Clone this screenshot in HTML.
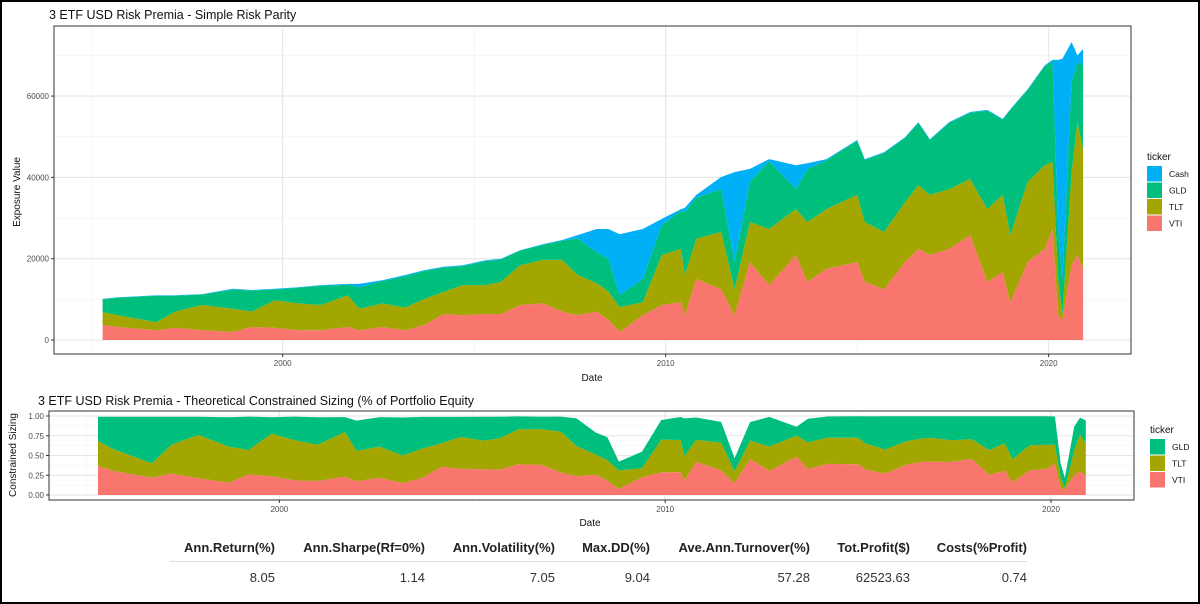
<!DOCTYPE html>
<html><head><meta charset="utf-8">
<style>
body{margin:0;background:#fff;font-family:"Liberation Sans",sans-serif;}
#wrap{position:relative;width:1196px;height:600px;border:2px solid #000;overflow:hidden;background:#fff}
svg{position:absolute;left:0;top:0}
text{font-family:"Liberation Sans",sans-serif}
table{position:absolute;left:168px;top:536px;border-collapse:collapse;font-size:13px;color:#222}
th{font-weight:bold;text-align:right;padding:2px 0 6px 0;border-bottom:1px solid #ddd}
td{text-align:right;padding:8px 0 0 0;color:#333}
</style></head><body>
<div id="wrap">
<svg id="chart" width="1196" height="530"></svg>
<table>
<tr><th style="width:105px">Ann.Return(%)</th><th style="width:150px">Ann.Sharpe(Rf=0%)</th><th style="width:130px">Ann.Volatility(%)</th><th style="width:95px">Max.DD(%)</th><th style="width:160px">Ave.Ann.Turnover(%)</th><th style="width:100px">Tot.Profit($)</th><th style="width:117px">Costs(%Profit)</th></tr>
<tr><td>8.05</td><td>1.14</td><td>7.05</td><td>9.04</td><td>57.28</td><td>62523.63</td><td>0.74</td></tr>
</table>
</div>
<script>
const dates=[1995.3,1995.7,1996.7,1997.2,1997.9,1998.7,1999.2,1999.8,2000.4,2001.0,2001.7,2002.0,2002.6,2003.2,2003.7,2004.2,2004.7,2005.3,2005.7,2006.2,2006.8,2007.3,2007.7,2008.2,2008.5,2008.8,2009.4,2009.9,2010.4,2010.5,2010.8,2011.45,2011.8,2012.2,2012.7,2013.4,2013.7,2014.2,2015.0,2015.2,2015.7,2016.25,2016.6,2016.9,2017.4,2017.95,2018.4,2018.8,2019.0,2019.45,2019.9,2020.1,2020.25,2020.36,2020.6,2020.75,2020.9];
const vti=[3700,3200,2400,3000,2400,2000,3200,3000,2400,2400,3200,2400,3200,2400,3700,6400,6100,6400,6400,8600,9000,7000,6100,7000,5000,2000,6100,8600,9300,6100,15000,12500,6100,19200,13500,20900,14300,17500,19200,14300,12500,19200,22400,20900,22400,25800,14300,16700,9300,19200,22400,27300,6100,5000,18500,20900,17500];
const tlt=[3200,2900,2000,4000,6200,5700,3800,6800,6600,6200,7800,5300,5800,5600,6400,5400,7400,7100,7900,9800,10700,12700,9900,7000,7000,6100,3200,12300,13100,9900,9900,14100,6400,9800,13800,11300,14700,14700,16500,14700,14100,14700,15700,14800,14700,13800,17900,19000,16500,19700,20600,16500,8900,1100,22800,32700,29500];
const gld=[3100,4300,6500,3900,2600,4700,5200,2600,3900,4700,2600,5300,5500,7700,6900,6000,4700,5900,5500,3600,3700,4700,9000,7600,8000,2900,5700,7400,9400,15500,10100,10500,6700,9900,16700,4900,13000,12000,13300,15300,19400,15800,15300,13500,16300,16300,24200,18500,30800,22600,24400,24700,12300,8900,22200,14800,20600];
const cash=[100,100,100,100,100,200,100,200,100,200,200,800,200,300,200,200,200,200,200,100,200,200,800,5700,7300,15000,12300,1500,400,1000,700,3000,22100,3200,500,5900,1500,300,200,200,200,200,200,200,200,200,200,200,200,200,200,400,41600,54200,9800,1600,4000];
const topTicks=[0,20000,40000,60000];
const topTickLabels=["0","20000","40000","60000"];
const yearTicks=[2000,2010,2020];
const wTicks=[0,0.25,0.5,0.75,1];
const wTickLabels=["0.00","0.25","0.50","0.75","1.00"];
const colors={VTI:"#F8766D",TLT:"#A3A500",GLD:"#00BF7D",Cash:"#00B0F6"};
const NS="http://www.w3.org/2000/svg";
const svg=document.getElementById('chart');
function el(tag,attrs,parent,txt){const e=document.createElementNS(NS,tag);for(const k in attrs)e.setAttribute(k,attrs[k]);if(txt!==undefined)e.textContent=txt;(parent||svg).appendChild(e);return e;}
// top panel
const T={l:52,r:1129,t:24,b:352,y0:1994.03,y1:2022.15,vmax:70850};
const tx=y=>T.l+(y-T.y0)/(T.y1-T.y0)*(T.r-T.l);
const ty=v=>338-v/20000*81.3;
const B={l:47,r:1132,t:409,b:498};
const bx=y=>B.l+(y-T.y0)/(T.y1-T.y0)*(B.r-B.l);
const by=w=>493-w*79;
function grid(p,xf,yf,yt,minorY,minorYears){
  minorY.forEach(v=>{const g=el('line',{x1:p.l,x2:p.r,y1:yf(v),y2:yf(v),stroke:'#f0f0f0','stroke-width':0.6});});
  minorYears.forEach(v=>{const g=el('line',{x1:xf(v),x2:xf(v),y1:p.t,y2:p.b,stroke:'#f0f0f0','stroke-width':0.6});});
  yt.forEach(v=>{const g=el('line',{x1:p.l,x2:p.r,y1:yf(v),y2:yf(v),stroke:'#e6e6e6','stroke-width':1.1});});
  yearTicks.forEach(v=>{const g=el('line',{x1:xf(v),x2:xf(v),y1:p.t,y2:p.b,stroke:'#e6e6e6','stroke-width':1.1});});
}
function stack(series,names,xf,yf,scale){
  let base=dates.map(()=>0);
  series.forEach((s,i)=>{
    const top=base.map((b,j)=>b+s[j]*scale[j]);
    let d='M'+dates.map((t,j)=>xf(t).toFixed(1)+','+yf(top[j]).toFixed(1)).join('L');
    for(let j=dates.length-1;j>=0;j--)d+='L'+xf(dates[j]).toFixed(1)+','+yf(base[j]).toFixed(1);
    const p=el('path',{d:d+'Z',fill:colors[names[i]]});
    
    
    base=top;
  });
}
grid(T,tx,ty,topTicks,[10000,30000,50000,70000],[1995,2005,2015]);
stack([vti,tlt,gld,cash],["VTI","TLT","GLD","Cash"],tx,ty,dates.map(()=>1));
let pb=el('rect',{x:T.l,y:T.t,width:T.r-T.l,height:T.b-T.t,fill:'none',stroke:'#333','stroke-width':1});

topTicks.forEach((v,i)=>{el('line',{x1:T.l-3,x2:T.l,y1:ty(v),y2:ty(v),stroke:'#333'});const t=el('text',{x:T.l-5,y:ty(v)+3,'font-size':8,fill:'#4d4d4d','text-anchor':'end'},svg,topTickLabels[i]);});
yearTicks.forEach(v=>{el('line',{x1:tx(v),x2:tx(v),y1:T.b,y2:T.b+3,stroke:'#333'});const t=el('text',{x:tx(v),y:T.b+12,'font-size':8,fill:'#4d4d4d','text-anchor':'middle'},svg,String(v));});
let t1=el('text',{x:T.l-5,y:17,'font-size':12.5,fill:'#111'},svg,'3 ETF USD Risk Premia - Simple Risk Parity');
let xa=el('text',{x:590,y:379,'font-size':10,fill:'#111','text-anchor':'middle'},svg,'Date');
let ya=el('text',{x:0,y:0,'font-size':10,fill:'#111','text-anchor':'middle',transform:'translate(18,190) rotate(-90)'},svg,'Exposure Value');
// legend top
let lt=el('text',{x:1145,y:158,'font-size':10,fill:'#111'},svg,'ticker');
["Cash","GLD","TLT","VTI"].forEach((n,i)=>{const r=el('rect',{x:1145,y:164+i*16.5,width:15,height:15.5,fill:colors[n]});const t=el('text',{x:1167,y:175+i*16.5,'font-size':8.5,fill:'#111'},svg,n);});
// bottom panel
const totals=dates.map((d,j)=>vti[j]+tlt[j]+gld[j]+cash[j]);
const sc=totals.map(v=>1/v);
grid(B,bx,by,wTicks,[0.125,0.375,0.625,0.875],[1995,2005,2015]);
stack([vti,tlt,gld],["VTI","TLT","GLD"],bx,by,sc);
let pb2=el('rect',{x:B.l,y:B.t,width:B.r-B.l,height:B.b-B.t,fill:'none',stroke:'#333','stroke-width':1});

wTicks.forEach((v,i)=>{el('line',{x1:B.l-3,x2:B.l,y1:by(v),y2:by(v),stroke:'#333'});const t=el('text',{x:B.l-5,y:by(v)+3,'font-size':8,fill:'#4d4d4d','text-anchor':'end'},svg,wTickLabels[i]);});
yearTicks.forEach(v=>{el('line',{x1:bx(v),x2:bx(v),y1:B.b,y2:B.b+3,stroke:'#333'});const t=el('text',{x:bx(v),y:B.b+12,'font-size':8,fill:'#4d4d4d','text-anchor':'middle'},svg,String(v));});
let t2=el('text',{x:36,y:403,'font-size':12.5,fill:'#111'},svg,'3 ETF USD Risk Premia - Theoretical Constrained Sizing (% of Portfolio Equity');
let xb=el('text',{x:588,y:524,'font-size':10,fill:'#111','text-anchor':'middle'},svg,'Date');
let yb=el('text',{x:0,y:0,'font-size':10,fill:'#111','text-anchor':'middle',transform:'translate(14,453) rotate(-90)'},svg,'Constrained Sizing');
let lb=el('text',{x:1148,y:431,'font-size':10,fill:'#111'},svg,'ticker');
["GLD","TLT","VTI"].forEach((n,i)=>{const r=el('rect',{x:1148,y:437+i*16.5,width:15,height:15.5,fill:colors[n]});const t=el('text',{x:1170,y:448+i*16.5,'font-size':8.5,fill:'#111'},svg,n);});
</script>
</body></html>
